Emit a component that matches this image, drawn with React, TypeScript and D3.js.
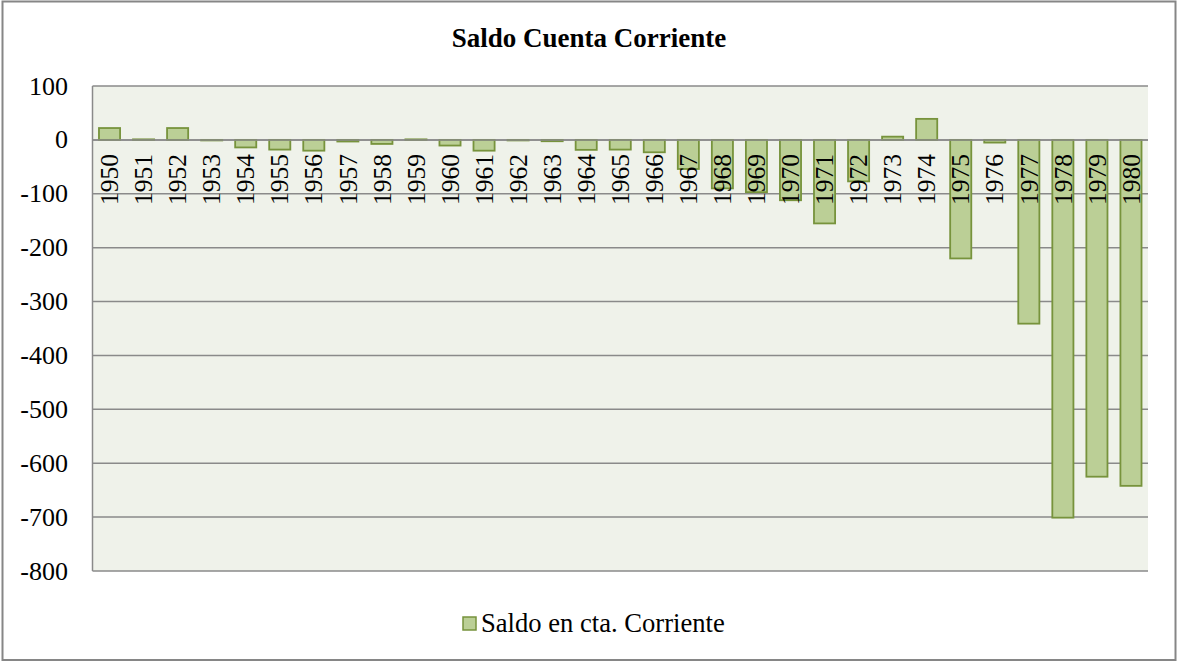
import React from "react";
import * as d3 from "d3";

const years = [
  "1950", "1951", "1952", "1953", "1954", "1955", "1956", "1957", "1958", "1959",
  "1960", "1961", "1962", "1963", "1964", "1965", "1966", "1967", "1968", "1969",
  "1970", "1971", "1972", "1973", "1974", "1975", "1976", "1977", "1978", "1979", "1980",
];
const saldo = [
  22, 1, 22, -1, -14, -18, -20, -3, -7.5, 1,
  -10.5, -20, -1, -2.5, -18.5, -18, -23, -54, -90, -97,
  -112, -155, -77, 6, 39, -220, -5, -341, -701, -625, -642,
];
const yTicks = [100, 0, -100, -200, -300, -400, -500, -600, -700, -800];
const seriesName = "Saldo en cta. Corriente";
const title = "Saldo Cuenta Corriente";

const W = 1177;
const H = 664;
const plot = { left: 92.5, right: 1148, top: 86, bottom: 571 };
const font = "Liberation Serif, DejaVu Serif, serif";

const App = () => {
  const x = d3
    .scaleBand<string>()
    .domain(years)
    .range([plot.left, plot.right])
    .paddingInner(0.38)
    .paddingOuter(0.19);
  const y = d3.scaleLinear().domain([-800, 100]).range([plot.bottom, plot.top]);
  const fs = 25.5;
  const txt = { fontFamily: font };

  return (
    <svg
      width={W}
      height={H}
      style={{ position: "absolute", left: 0, top: 0, background: "#fff", fontFamily: font }}
    >
      <rect x={2.5} y={1.5} width={1173} height={658.5} fill="#fff" stroke="#868686" strokeWidth={2} />
      <text x={589} y={47} textAnchor="middle" fontSize={27} fontWeight="bold" style={txt}>
        {title}
      </text>

      <rect
        x={plot.left}
        y={plot.top}
        width={plot.right - plot.left}
        height={plot.bottom - plot.top}
        fill="#eff2ea"
      />
      {yTicks.map((t) => (
        <g key={t}>
          <line x1={plot.left} x2={plot.right} y1={y(t)} y2={y(t)} stroke="#8a8a8a" strokeWidth={1.5} />
          <text x={68} y={y(t) + 8.5} textAnchor="end" fontSize={26} style={txt}>
            {t}
          </text>
        </g>
      ))}
      <line x1={plot.left} x2={plot.left} y1={plot.top} y2={plot.bottom} stroke="#8a8a8a" strokeWidth={1.5} />

      {years.map((yr, i) => {
        const v = saldo[i];
        const y0 = y(Math.max(0, v));
        const y1 = y(Math.min(0, v));
        return (
          <rect
            key={yr}
            x={x(yr)}
            y={y0}
            width={x.bandwidth()}
            height={Math.max(0.5, y1 - y0)}
            fill="#bbcf96"
            stroke="#77933c"
            strokeWidth={1.8}
          />
        );
      })}
      <line x1={plot.left} x2={plot.right} y1={y(0)} y2={y(0)} stroke="#8a8a8a" strokeWidth={1.5} />

      {years.map((yr) => {
        const cx = (x(yr) as number) + x.bandwidth() / 2;
        return (
          <text
            key={yr}
            transform={`translate(${cx + fs * 0.34},${y(0) + 14}) rotate(-90)`}
            textAnchor="end"
            fontSize={fs}
            style={txt}
          >
            {yr}
          </text>
        );
      })}

      <rect x={463} y={617} width={13} height={13} fill="#bbcf96" stroke="#77933c" strokeWidth={1.5} />
      <text x={481} y={632} fontSize={26.6} style={txt}>
        {seriesName}
      </text>
    </svg>
  );
};

export default App;
